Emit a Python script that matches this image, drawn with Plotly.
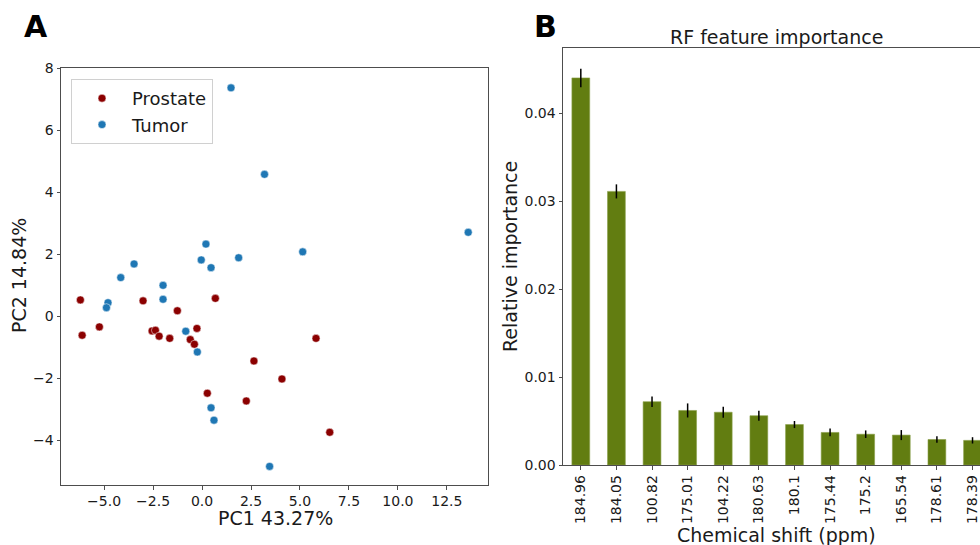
import plotly.graph_objects as go

W, H = 980, 545

# ---- Panel A data (PCA scores) ----
pc1_prostate = [-6.21, -6.12, -5.24, -3.01, -1.26, 0.68, -2.55, -2.38, -2.19, -1.65,
                -0.26, -0.60, -0.39, 2.65, 0.27, 2.26, 5.82, 4.08, 6.52]
pc2_prostate = [0.53, -0.61, -0.34, 0.50, 0.18, 0.58, -0.47, -0.45, -0.64, -0.71,
                -0.39, -0.75, -0.90, -1.44, -2.48, -2.73, -0.71, -2.02, -3.74]
pc1_tumor = [1.48, 3.19, 13.59, 5.14, 0.20, 1.87, -0.04, 0.46, -3.47, -4.15,
             -1.99, -1.99, -4.80, -4.88, -0.83, -0.24, 0.46, 0.61, 3.45]
pc2_tumor = [7.37, 4.58, 2.71, 2.08, 2.33, 1.89, 1.82, 1.57, 1.69, 1.25,
             1.00, 0.55, 0.44, 0.28, -0.48, -1.15, -2.95, -3.35, -4.84]
pc1_ticks = [-5.0, -2.5, 0.0, 2.5, 5.0, 7.5, 10.0, 12.5]
pc2_ticks = [-4, -2, 0, 2, 4, 6, 8]

# ---- Panel B data (RF feature importance) ----
shifts = ["184.96", "184.05", "100.82", "175.01", "104.22", "180.63",
          "180.1", "175.44", "175.2", "165.54", "178.61", "178.39"]
importance = [0.0440, 0.0311, 0.0072, 0.0062, 0.0060, 0.0056,
              0.0046, 0.0037, 0.0035, 0.0034, 0.0029, 0.0028]
importance_err = [0.00105, 0.0008, 0.0006, 0.0008, 0.00063, 0.00057,
                  0.0004, 0.00044, 0.00043, 0.00057, 0.00036, 0.00036]
imp_ticks = [0.00, 0.01, 0.02, 0.03, 0.04]

FONT = "DejaVu Sans"
AX = "#4d4d4d"

fig = go.Figure()
fig.add_trace(go.Scatter(x=pc1_prostate, y=pc2_prostate, mode="markers", name="Prostate",
                         marker=dict(color="#8b0000", size=8, line=dict(width=0.5, color="white")),
                         xaxis="x", yaxis="y"))
fig.add_trace(go.Scatter(x=pc1_tumor, y=pc2_tumor, mode="markers", name="Tumor",
                         marker=dict(color="#1f77b4", size=8, line=dict(width=0.5, color="white")),
                         xaxis="x", yaxis="y"))
fig.add_trace(go.Bar(x=shifts, y=importance, width=0.5,
                     marker=dict(color="#627d11", line=dict(width=0.6, color="#8aa04a")),
                     error_y=dict(type="data", array=importance_err, color="black",
                                  thickness=1.5, width=0),
                     showlegend=False, xaxis="x2", yaxis="y2"))

axcommon = dict(showline=True, linecolor=AX, linewidth=1, ticks="outside", ticklen=3.5,
                tickcolor=AX, showgrid=False, zeroline=False, automargin=False,
                tickfont=dict(family=FONT, size=14, color="#1a1a1a"))

fig.update_layout(
    width=W, height=H, margin=dict(l=0, r=0, t=0, b=0, autoexpand=False),
    paper_bgcolor="white", plot_bgcolor="white",
    font=dict(family=FONT, color="#1a1a1a"),
    xaxis=dict(domain=[61 / W, 488 / W], range=[-7.2, 14.6], anchor="y", mirror=True,
               tickvals=pc1_ticks, tickformat=".1f", **axcommon),
    yaxis=dict(domain=[60 / H, 477 / H], range=[-5.44, 8.01], anchor="x", mirror=True,
               tickvals=pc2_ticks, tickformat="d", **axcommon),
    xaxis2=dict(domain=[563 / W, 1.0], range=[-0.5, 11.21], anchor="y2", mirror=True,
                type="category", tickangle=-90, **axcommon),
    yaxis2=dict(domain=[80 / H, 497 / H], range=[0, 0.0474], anchor="x2",
                tickvals=imp_ticks, tickformat=".2f", **axcommon),
    legend=dict(x=71 / W, y=(H - 79) / H, xanchor="left", yanchor="top",
                bgcolor="white", bordercolor="#d0d0d0", borderwidth=1, itemwidth=50,
                font=dict(family=FONT, size=18, color="#1a1a1a")),
    bargap=0.5,
)

def ann(text, x, y, size, angle=0, bold=False):
    fig.add_annotation(text=f"<b>{text}</b>" if bold else text, x=x / W, y=(H - y) / H,
                       xref="paper", yref="paper", showarrow=False, textangle=angle,
                       xanchor="center", yanchor="middle",
                       font=dict(family=FONT, size=size, color="black" if bold else "#1a1a1a"))

ann("A", 36, 26, 30, bold=True)
ann("B", 545, 26, 30, bold=True)
ann("PC1 43.27%", 275, 518, 19)
ann("PC2 14.84%", 19, 276, 19, angle=-90)
ann("RF feature importance", 776, 37, 19)
ann("Relative importance", 510, 257, 19, angle=-90)
ann("Chemical shift (ppm)", 776, 535, 19)

fig.write_html("out.html")
